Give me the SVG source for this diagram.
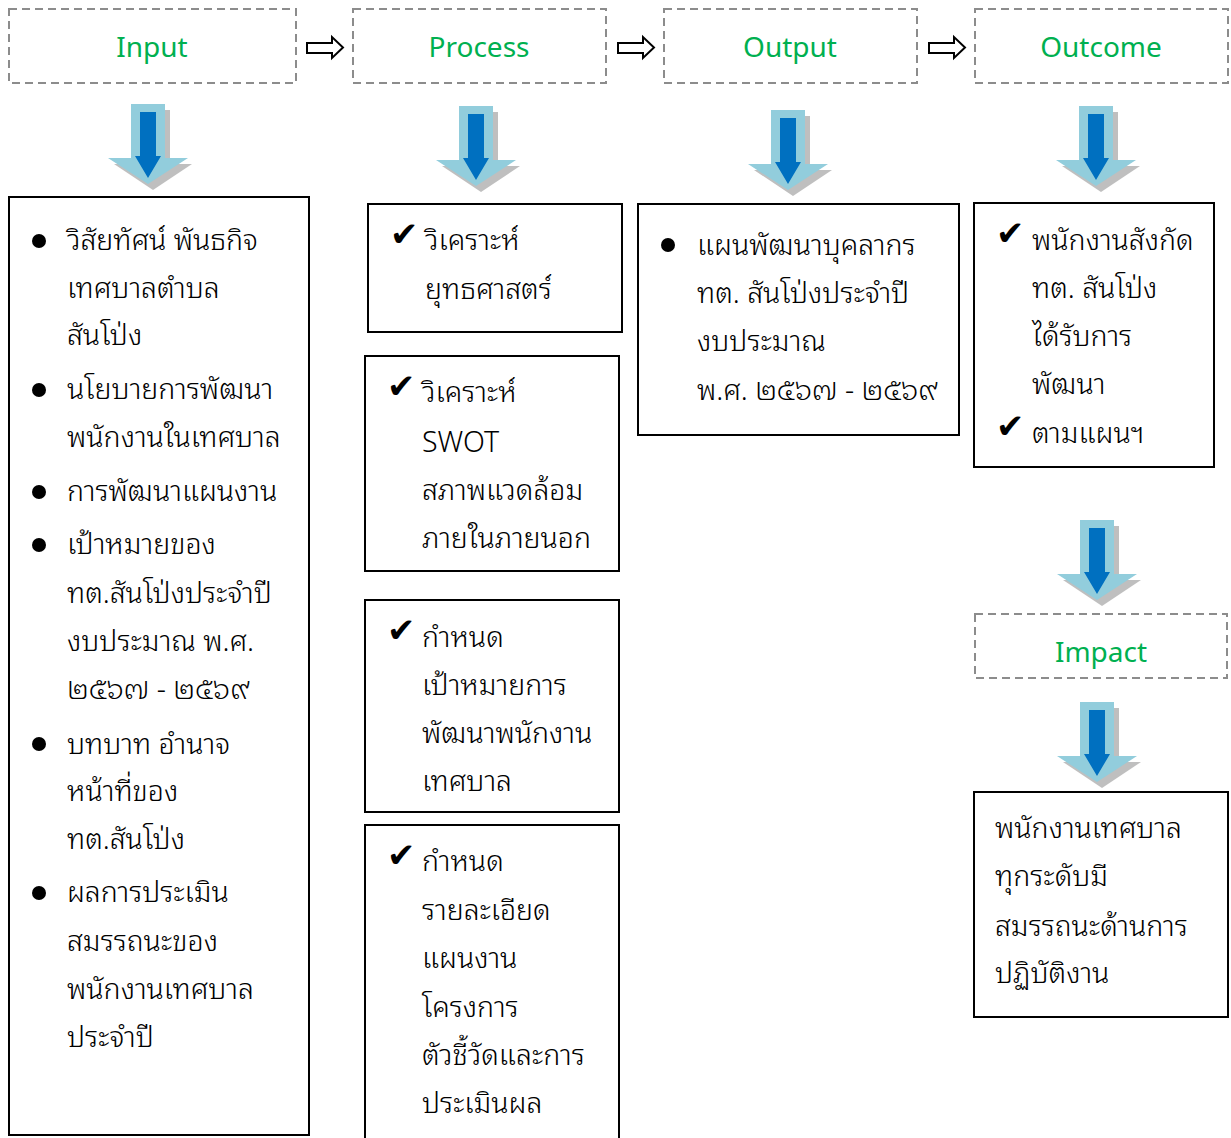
<svg xmlns="http://www.w3.org/2000/svg" width="1231" height="1138" viewBox="0 0 1231 1138">
<defs>
<style>
.hdr{fill:#fff;stroke:#8c8c8c;stroke-width:2;stroke-dasharray:8 5}
.hdt{font-family:"Noto Sans","Open Sans",sans-serif;font-size:28px;fill:#00b050;text-anchor:middle;dominant-baseline:central}
.box{fill:#fff;stroke:#000;stroke-width:2}
.th{font-family:"Noto Sans Thai Looped","Noto Serif Thai","Loma","Garuda","Noto Sans Thai","Noto Sans","DejaVu Sans",sans-serif;font-size:28.5px;font-weight:300;fill:#000;dominant-baseline:central}
.chk{font-family:"DejaVu Sans",sans-serif;font-size:34px;fill:#000;dominant-baseline:central}
.harr{fill:#fff;stroke:#000;stroke-width:2}
</style>
<g id="darrow">
<polygon points="-12,6 22,6 22,60 44,60 5,86 -34,60 -12,60" fill="#bfbfbf"/>
<polygon points="-17,0 17,0 17,54 40,54 0,80 -40,54 -17,54" fill="#92cddc"/>
<polygon points="-8,8 8,8 8,52 13,52 0,74 -13,52 -8,52" fill="#0070c0"/>
</g>
</defs>
<rect width="1231" height="1138" fill="#fff"/>

<g id="connectors">
<polygon class="harr" points="307,43 332,43 332,37 343,47.5 332,58 332,53 307,53"/>
<polygon class="harr" points="618,43 643,43 643,37 654,47.5 643,58 643,53 618,53"/>
<polygon class="harr" points="929,43 954,43 954,37 965,47.5 954,58 954,53 929,53"/>
<use href="#darrow" x="148" y="104"/>
<use href="#darrow" x="476" y="106"/>
<use href="#darrow" x="788" y="110"/>
<use href="#darrow" x="1096" y="106"/>
<use href="#darrow" x="1097" y="520"/>
<use href="#darrow" x="1097" y="702"/>
</g>

<g id="input-header"><rect class="hdr" x="9" y="9" width="287" height="74"/><text class="hdt" x="152" y="46">Input</text></g>
<g id="process-header"><rect class="hdr" x="353" y="9" width="253" height="74"/><text class="hdt" x="479" y="46">Process</text></g>
<g id="output-header"><rect class="hdr" x="664" y="9" width="253" height="74"/><text class="hdt" x="790" y="46">Output</text></g>
<g id="outcome-header"><rect class="hdr" x="975" y="9" width="253" height="74"/><text class="hdt" x="1101" y="46">Outcome</text></g>
<g id="impact-header"><rect class="hdr" x="975" y="614" width="252" height="64"/><text class="hdt" x="1101" y="651">Impact</text></g>

<g id="input-box">
<rect class="box" x="9" y="197" width="300" height="938"/>
<circle cx="39" cy="241" r="7"/><circle cx="39" cy="390" r="7"/><circle cx="39" cy="492" r="7"/><circle cx="39" cy="545" r="7"/><circle cx="39" cy="744" r="7"/><circle cx="39" cy="893" r="7"/>
<text class="th" x="67" y="237">วิสัยทัศน์ พันธกิจ</text>
<text class="th" x="67" y="285">เทศบาลตำบล</text>
<text class="th" x="67" y="332">สันโป่ง</text>
<text class="th" x="67" y="386">นโยบายการพัฒนา</text>
<text class="th" x="67" y="434">พนักงานในเทศบาล</text>
<text class="th" x="67" y="488">การพัฒนาแผนงาน</text>
<text class="th" x="67" y="541">เป้าหมายของ</text>
<text class="th" x="67" y="590">ทต.สันโป่งประจำปี</text>
<text class="th" x="67" y="638">งบประมาณ พ.ศ.</text>
<text class="th" x="67" y="686">๒๕๖๗ - ๒๕๖๙</text>
<text class="th" x="67" y="741">บทบาท อำนาจ</text>
<text class="th" x="67" y="788">หน้าที่ของ</text>
<text class="th" x="67" y="836">ทต.สันโป่ง</text>
<text class="th" x="67" y="889">ผลการประเมิน</text>
<text class="th" x="67" y="938">สมรรถนะของ</text>
<text class="th" x="67" y="986">พนักงานเทศบาล</text>
<text class="th" x="67" y="1034">ประจำปี</text>
</g>

<g id="process-box-1">
<rect class="box" x="368" y="204" width="254" height="128"/>
<text class="chk" x="390" y="234">✔</text>
<text class="th" x="425" y="237">วิเคราะห์</text>
<text class="th" x="425" y="286">ยุทธศาสตร์</text>
</g>
<g id="process-box-2">
<rect class="box" x="365" y="356" width="254" height="215"/>
<text class="chk" x="387" y="386">✔</text>
<text class="th" x="422" y="389">วิเคราะห์</text>
<text class="th" x="422" y="439">SWOT</text>
<text class="th" x="422" y="487">สภาพแวดล้อม</text>
<text class="th" x="422" y="535">ภายในภายนอก</text>
</g>
<g id="process-box-3">
<rect class="box" x="365" y="600" width="254" height="212"/>
<text class="chk" x="387" y="630">✔</text>
<text class="th" x="422" y="634">กำหนด</text>
<text class="th" x="422" y="682">เป้าหมายการ</text>
<text class="th" x="422" y="730">พัฒนาพนักงาน</text>
<text class="th" x="422" y="778">เทศบาล</text>
</g>
<g id="process-box-4">
<rect class="box" x="365" y="825" width="254" height="320"/>
<text class="chk" x="387" y="855">✔</text>
<text class="th" x="422" y="858">กำหนด</text>
<text class="th" x="422" y="907">รายละเอียด</text>
<text class="th" x="422" y="955">แผนงาน</text>
<text class="th" x="422" y="1004">โครงการ</text>
<text class="th" x="422" y="1052">ตัวชี้วัดและการ</text>
<text class="th" x="422" y="1100">ประเมินผล</text>
</g>

<g id="output-box">
<rect class="box" x="638" y="204" width="321" height="231"/>
<circle cx="668" cy="245" r="7"/>
<text class="th" x="697" y="242">แผนพัฒนาบุคลากร</text>
<text class="th" x="697" y="290">ทต. สันโป่งประจำปี</text>
<text class="th" x="697" y="338">งบประมาณ</text>
<text class="th" x="697" y="387">พ.ศ. ๒๕๖๗ - ๒๕๖๙</text>
</g>

<g id="outcome-box">
<rect class="box" x="974" y="203" width="240" height="264"/>
<text class="chk" x="996" y="233">✔</text>
<text class="th" x="1032" y="237">พนักงานสังกัด</text>
<text class="th" x="1032" y="285">ทต. สันโป่ง</text>
<text class="th" x="1032" y="333">ได้รับการ</text>
<text class="th" x="1032" y="381">พัฒนา</text>
<text class="chk" x="996" y="426">✔</text>
<text class="th" x="1032" y="430">ตามแผนฯ</text>
</g>

<g id="impact-box">
<rect class="box" x="974" y="792" width="254" height="225"/>
<text class="th" x="995" y="825">พนักงานเทศบาล</text>
<text class="th" x="995" y="873">ทุกระดับมี</text>
<text class="th" x="995" y="923">สมรรถนะด้านการ</text>
<text class="th" x="995" y="970">ปฏิบัติงาน</text>
</g>
</svg>
